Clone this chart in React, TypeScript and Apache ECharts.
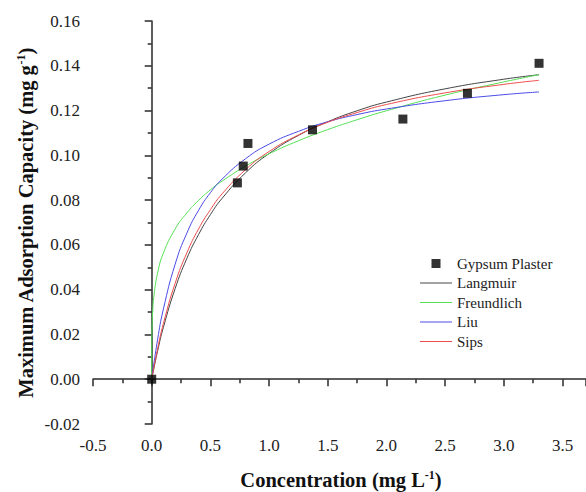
import React, { useEffect, useRef } from "react";
import * as echarts from "echarts";

// Measured data (Gypsum Plaster)
const scatterC = [0, 0.73, 0.78, 0.82, 1.37, 2.14, 2.69, 3.3];
const scatterQ = [0, 0.0877, 0.0952, 0.1053, 0.1114, 0.1162, 0.1277, 0.1411];

// Fitted curves
const fitC = [0, 0.05, 0.1, 0.2, 0.3, 0.4, 0.5, 0.6, 0.8, 1.0, 1.25, 1.5, 1.75, 2.0, 2.5, 3.0, 3.3];
const langmuirQ = [0, 0.0125, 0.0232, 0.0405, 0.054, 0.0647, 0.0735, 0.0808, 0.0922, 0.1008, 0.1089, 0.115, 0.1199, 0.1238, 0.1297, 0.134, 0.136];
const liuQ = [0, 0.0176, 0.0314, 0.0514, 0.0653, 0.0755, 0.0833, 0.0894, 0.0985, 0.105, 0.1107, 0.115, 0.1182, 0.1207, 0.1244, 0.1271, 0.1283];
const sipsQ = [0, 0.0135, 0.0249, 0.0429, 0.0565, 0.0672, 0.0757, 0.0828, 0.0936, 0.1017, 0.1091, 0.1148, 0.1191, 0.1227, 0.1279, 0.1317, 0.1335];
const freundC = [0, 0.0002, 0.001, 0.003, 0.01, 0.02, 0.05, 0.1, 0.2, 0.3, 0.4, 0.5, 0.6, 0.8, 1.0, 1.25, 1.5, 1.75, 2.0, 2.5, 3.0, 3.3];
const freundQ = [0, 0.0118, 0.0177, 0.0233, 0.0316, 0.0376, 0.0473, 0.0564, 0.0671, 0.0743, 0.0799, 0.0846, 0.0885, 0.0952, 0.1007, 0.1065, 0.1115, 0.1159, 0.1199, 0.1269, 0.1328, 0.136];

const seriesNames = ["Gypsum Plaster", "Langmuir", "Freundlich", "Liu", "Sips"];
const lineColors: Record<string, string> = { Langmuir: "#444444", Freundlich: "#55e055", Liu: "#4a4ae8", Sips: "#ee4c4c" };
const xTitle = "{b|Concentration (mg L}{sup|-1}{b|)}";
const yTitle = "{b|Maximum Adsorption Capacity (mg g}{sup|-1}{b|)}";

const FONT = "Liberation Serif";
const SQUARE_ICON = "path://M0,0h10v10h-10z";
const LINE_ICON = "path://M0,0h32v1h-32z";

const zip = (xs: number[], ys: number[]) => xs.map((x, i) => [x, ys[i]]);

export default function App() {
  const ref = useRef<HTMLDivElement>(null);
  useEffect(() => {
    if (!ref.current) return;
    const chart = echarts.init(ref.current, undefined, { renderer: "svg" });
    const tickColor = "#2a2a2a";
    const axisLine = { show: true, lineStyle: { color: tickColor, width: 1.5 } };
    const lineSeries = (name: string, xs: number[], ys: number[]) => ({
      name,
      type: "line",
      data: zip(xs, ys),
      symbol: "none",
      smooth: 0.5,
      lineStyle: { color: lineColors[name], width: 1 },
      itemStyle: { color: lineColors[name] },
      z: 2,
    });
    const rich = {
      b: { fontFamily: FONT, fontSize: 20.5, fontWeight: "bold", fill: "#111" },
      sup: { fontFamily: FONT, fontSize: 12, fontWeight: "bold", fill: "#111", padding: [0, 0, 10, 0] },
    };
    const labelStyle = { fontFamily: FONT, fontSize: 17, color: "#222" };
    chart.setOption({
      animation: false,
      textStyle: { fontFamily: FONT },
      grid: { left: 93, top: 21, width: 495.6, height: 403, containLabel: false },
      legend: {
        orient: "vertical",
        left: 420,
        top: 256,
        padding: 0,
        itemWidth: 32,
        itemHeight: 9,
        itemGap: 4.5,
        symbolKeepAspect: true,
        textStyle: { fontFamily: FONT, fontSize: 15, color: "#222" },
        data: seriesNames.map((n, i) => ({ name: n, icon: i === 0 ? SQUARE_ICON : LINE_ICON })),
      },
      xAxis: {
        type: "value",
        min: -0.5,
        max: 3.7,
        interval: 0.5,
        axisLine,
        splitLine: { show: false },
        axisTick: { show: true, length: 7, lineStyle: { color: tickColor, width: 1.5 } },
        minorTick: { show: true, splitNumber: 2, length: 4, lineStyle: { color: tickColor, width: 1.5 } },
        axisLabel: { showMaxLabel: false, margin: 13, ...labelStyle, formatter: (v: number) => v.toFixed(1) },
      },
      yAxis: {
        type: "value",
        min: -0.02,
        max: 0.16,
        interval: 0.02,
        axisLine,
        splitLine: { show: false },
        axisTick: { show: true, length: 7, lineStyle: { color: tickColor, width: 1.5 } },
        minorTick: { show: true, splitNumber: 2, length: 4, lineStyle: { color: tickColor, width: 1.5 } },
        axisLabel: { margin: 13, ...labelStyle, formatter: (v: number) => v.toFixed(2) },
      },
      graphic: [
        {
          type: "text",
          x: 341,
          y: 480,
          style: { text: xTitle, rich, fontFamily: FONT, align: "center", verticalAlign: "middle" },
        },
        {
          type: "text",
          x: 26,
          y: 223,
          rotation: Math.PI / 2,
          style: { text: yTitle, rich, fontFamily: FONT, align: "center", verticalAlign: "middle" },
        },
      ],
      series: [
        {
          name: seriesNames[0],
          type: "scatter",
          data: zip(scatterC, scatterQ),
          symbol: "rect",
          symbolSize: 9,
          itemStyle: { color: "#000" },
          z: 5,
        },
        lineSeries("Langmuir", fitC, langmuirQ),
        lineSeries("Freundlich", freundC, freundQ),
        lineSeries("Liu", fitC, liuQ),
        lineSeries("Sips", fitC, sipsQ),
      ],
    });
    return () => chart.dispose();
  }, []);
  return (
    <div style={{ fontFamily: FONT }}>
      <div
        ref={ref}
        style={{ position: "fixed", left: 0, top: 0, width: 586, height: 492, background: "#fff", fontFamily: FONT }}
      />
    </div>
  );
}
